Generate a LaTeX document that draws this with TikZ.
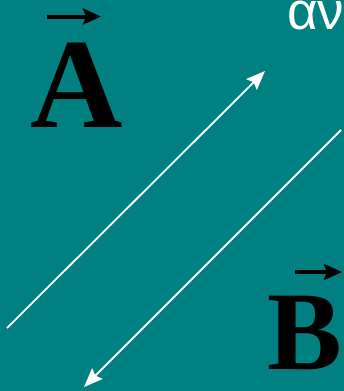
\documentclass[tikz,border=0pt]{standalone}
\usepackage{fontspec}
\setmainfont{Liberation Serif}
\newfontfamily\greekfont{Liberation Sans}
\usetikzlibrary{arrows.meta}
\definecolor{bgteal}{HTML}{008080}
\tikzset{
  vecarrow/.style={line width=4pt,-{Stealth[length=18pt,width=16pt,inset=3pt]},black},
  wline/.style={white,line width=1.8pt,-{Stealth[length=19pt,width=15pt,inset=3pt]}},
  bigletter/.style={inner sep=0pt,anchor=base west,font=\bfseries}
}
\begin{document}
\begin{tikzpicture}[x=1pt,y=-1pt]
\fill[bgteal] (0,0) rectangle (344,391);
\useasboundingbox (0,0) rectangle (344,391);
\clip (0,0) rectangle (344,391);
\node[bigletter,font=\fontsize{128}{128}\bfseries\selectfont] (A) at (30,127) {A};
\node[bigletter,font=\fontsize{112}{112}\bfseries\selectfont] (B) at (267,369) {B};
\coordinate (a1) at (47,16.5); \coordinate (a2) at (101,16.5);
\draw[vecarrow] (a1) -- (a2);
\coordinate (b1) at (295,272); \coordinate (b2) at (342,272);
\draw[vecarrow] (b1) -- (b2);
\node[inner sep=0pt,anchor=base west,white,font=\greekfont\fontsize{53}{53}\selectfont] (G) at (287,29) {αντ};
\coordinate (p1) at (7,328); \coordinate (p2) at (265,71);
\draw[wline] (p1) -- (p2);
\coordinate (q1) at (341,130); \coordinate (q2) at (84,387);
\draw[wline] (q1) -- (q2);
\end{tikzpicture}
\end{document}
